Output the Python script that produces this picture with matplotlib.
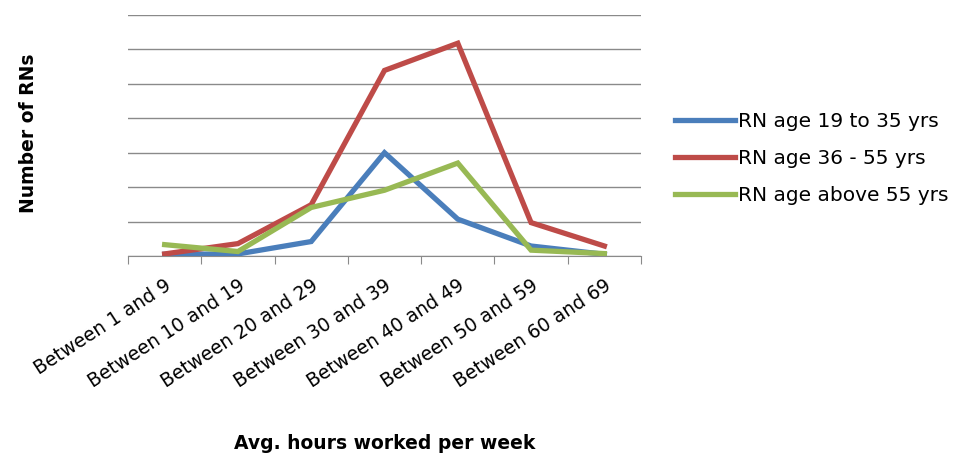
import matplotlib
matplotlib.use("Agg")
import matplotlib.pyplot as plt
import numpy as np

categories = ["Between 1 and 9", "Between 10 and 19", "Between 20 and 29",
              "Between 30 and 39", "Between 40 and 49", "Between 50 and 59",
              "Between 60 and 69"]
rn_19_35 = [0.5, 0.6, 4.2, 30.0, 10.7, 2.9, 0.5]
rn_36_55 = [0.6, 3.6, 14.9, 53.9, 61.8, 9.7, 2.9]
rn_above_55 = [3.3, 1.3, 14.1, 19.1, 27.0, 1.7, 0.7]
series_labels = ["RN age 19 to 35 yrs", "RN age 36 - 55 yrs", "RN age above 55 yrs"]
colors = ["#4A7EBB", "#BE4B48", "#98B954"]

plt.rcParams['font.family'] = ['DejaVu Sans']
fig = plt.figure(figsize=(9.71, 4.61), dpi=100)
ax = fig.add_axes([128/971, 1-256/461, (641-128)/971, (256-15)/461])

x = np.arange(len(categories))
for vals, lab, c in zip([rn_19_35, rn_36_55, rn_above_55], series_labels, colors):
    ax.plot(x, vals, color=c, lw=3.8, label=lab, solid_joinstyle='miter', zorder=3)

ax.set_xlim(-0.5, len(categories) - 0.5)
ax.set_ylim(0, 70)
ax.set_yticks(np.arange(0, 71, 10))
ax.yaxis.grid(True, color='#8a8a8a', lw=1.0)
ax.set_axisbelow(True)
ax.tick_params(axis='y', left=False, labelleft=False)
for s in ['top', 'right', 'left']:
    ax.spines[s].set_visible(False)
ax.spines['bottom'].set_color('#8a8a8a')

ax.set_xticks(np.arange(-0.5, len(categories)), minor=False)
ax.set_xticklabels([])
ax.tick_params(axis='x', which='major', direction='out', length=6, color='#8a8a8a')
ax.set_xticks(x, minor=True)
ax.set_xticklabels(categories, minor=True, rotation=33, ha='right',
                   rotation_mode='anchor', fontsize=13.5)
ax.tick_params(axis='x', which='minor', length=0, pad=14)

ax.set_ylabel("Number of RNs", fontsize=13.5, fontweight='bold')
ax.yaxis.set_label_coords(-0.175, 0.51)
fig.text(385/971, 1-443/461, "Avg. hours worked per week", fontsize=13.5,
         fontweight='bold', ha='center', va='center')

leg = fig.legend(loc='upper left', bbox_to_anchor=(675/971, 1-112/461),
                 frameon=False, fontsize=14.5, handlelength=3.0,
                 handletextpad=0.15, labelspacing=0.9, borderpad=0,
                 borderaxespad=0)

fig.savefig("out.png", dpi=100)
